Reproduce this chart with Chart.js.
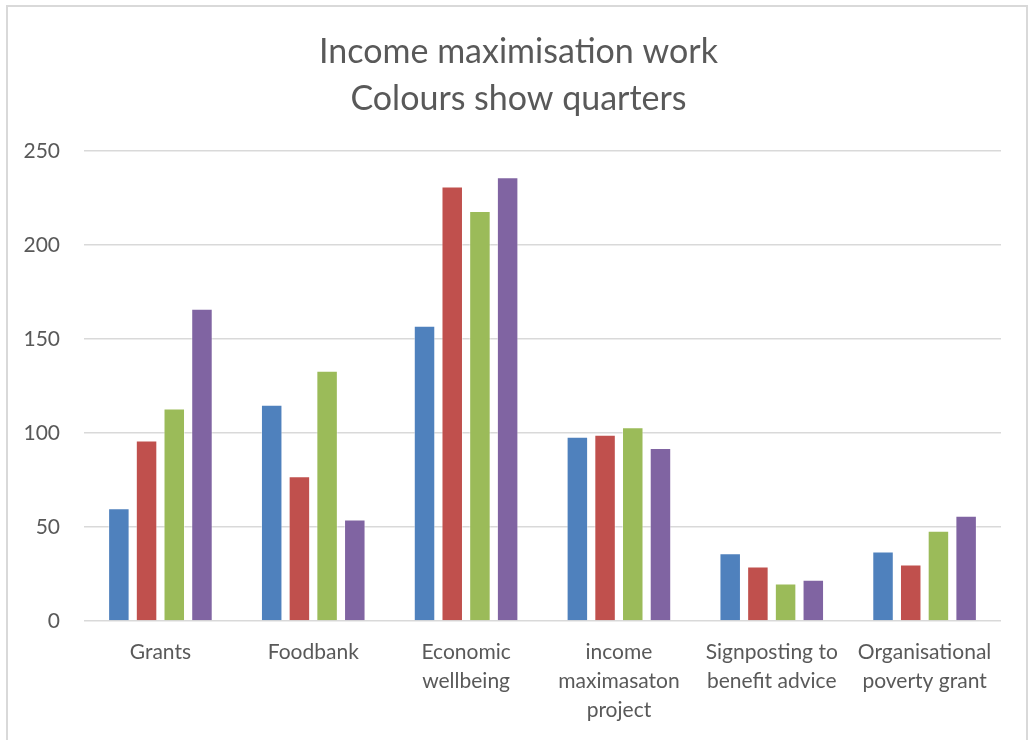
<!DOCTYPE html>
<html>
<head>
<meta charset="utf-8">
<script src="https://cdn.jsdelivr.net/npm/chart.js@4/dist/chart.umd.min.js"></script>
<style>
  html, body { margin: 0; padding: 0; background: #ffffff; overflow: hidden; width: 1031px; height: 740px; }
  #frame { position: absolute; left: 6px; top: 5px; width: 1022px; height: 760px; border: 2px solid #D9D9D9; box-sizing: border-box; }
  #wrap { position: absolute; left: 0; top: 0; width: 1031px; height: 740px; }
</style>
</head>
<body>
<div id="frame"></div>
<div id="wrap"><canvas id="c" width="1031" height="740"></canvas></div>
<script>
const titleLines = ["Income maximisation work", "Colours show quarters"];
const categories = [
  ["Grants"],
  ["Foodbank"],
  ["Economic", "wellbeing"],
  ["income", "maximasaton", "project"],
  ["Signposting to", "benefit advice"],
  ["Organisational", "poverty grant"]
];
const seriesNames = ["Q1", "Q2", "Q3", "Q4"];
const q1 = [60, 115, 157, 98, 36, 37];
const q2 = [96, 77, 231, 99, 29, 30];
const q3 = [113, 133, 218, 103, 20, 48];
const q4 = [166, 54, 236, 92, 22, 56];
const seriesColors = ["#4F81BD", "#C0504D", "#9BBB59", "#8064A2"];
const yMin = 0, yMax = 250, yStep = 50;

const allSeries = [q1, q2, q3, q4];
const textColor = "#595959";
const fontFamily = "Lato, 'Liberation Sans', sans-serif";

new Chart(document.getElementById("c"), {
  type: "bar",
  data: {
    labels: categories,
    datasets: allSeries.map((vals, i) => ({
      label: seriesNames[i],
      data: vals,
      backgroundColor: seriesColors[i],
      borderColor: "rgba(255,255,255,0.45)",
      borderWidth: 1,
      categoryPercentage: 0.725,
      barPercentage: 0.776
    }))
  },
  options: {
    responsive: false,
    animation: false,
    layout: { padding: { left: 6, right: 0, top: 4, bottom: 0 } },
    plugins: {
      legend: { display: false },
      tooltip: { enabled: false },
      title: {
        display: true,
        text: titleLines,
        color: textColor,
        font: { family: fontFamily, size: 34, weight: "normal", lineHeight: 1.38 },
        padding: { top: 25, bottom: 28 }
      }
    },
    scales: {
      x: {
        grid: { display: false },
        border: { display: false },
        ticks: {
          color: textColor,
          font: { family: fontFamily, size: 21, lineHeight: 1.38 },
          maxRotation: 0,
          autoSkip: false,
          padding: 9
        },
        afterFit: (s) => { s.height = 119; }
      },
      y: {
        min: yMin,
        max: yMax,
        ticks: {
          stepSize: yStep,
          color: textColor,
          font: { family: fontFamily, size: 21 },
          padding: 24
        },
        grid: { color: "#D9D9D9", lineWidth: 1.5, drawTicks: false },
        border: { display: false },
        afterFit: (s) => { s.width = 78; }
      },
      ySpacer: {
        position: "right",
        display: true,
        min: yMin,
        max: yMax,
        grid: { display: false, drawOnChartArea: false },
        border: { display: false },
        ticks: { display: false },
        afterFit: (s) => { s.width = 30; }
      }
    }
  }
});
</script>
</body>
</html>
